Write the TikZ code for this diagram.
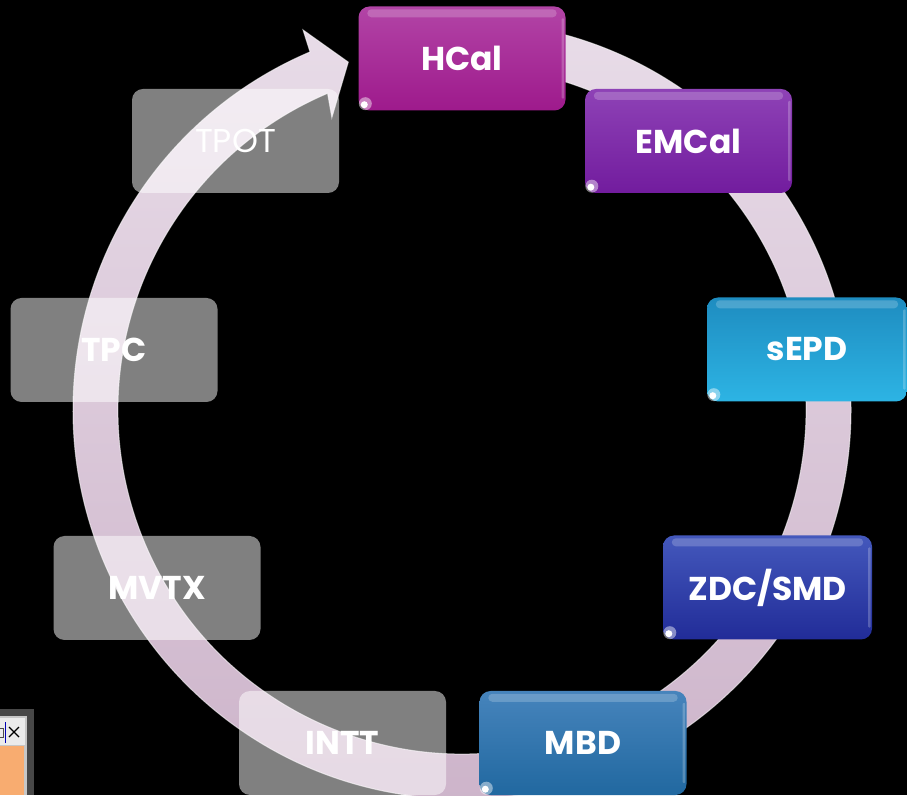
\documentclass[tikz,border=0pt]{standalone}
\usepackage{fontspec}
\setmainfont{Poppins}
\usetikzlibrary{calc}
\definecolor{ringtop}{RGB}{232,220,232}
\definecolor{ringbot}{RGB}{205,180,202}
\definecolor{hcalT}{RGB}{178,68,166}
\definecolor{hcalB}{RGB}{158,26,140}
\definecolor{emcT}{RGB}{142,66,182}
\definecolor{emcB}{RGB}{114,28,158}
\definecolor{sepdT}{RGB}{30,140,192}
\definecolor{sepdB}{RGB}{45,180,228}
\definecolor{zdcT}{RGB}{68,88,188}
\definecolor{zdcB}{RGB}{33,44,152}
\definecolor{mbdT}{RGB}{70,132,188}
\definecolor{mbdB}{RGB}{33,104,160}
\definecolor{winorange}{RGB}{248,172,112}
\newcommand\glossbox[1]{%
  \fill[white,opacity=.2,rounded corners=4pt] ([xshift=9pt,yshift=-3pt]#1.north west) rectangle ([xshift=-9pt,yshift=-11pt]#1.north east);
  \fill[white,opacity=.22,rounded corners=1pt] ([xshift=-4pt,yshift=-12pt]#1.north east) rectangle ([xshift=-1.5pt,yshift=12pt]#1.south east);
  \fill[white,opacity=.45] ([shift={(7pt,7pt)}]#1.south west) circle (6.5pt);
  \fill[white] ([shift={(6pt,6pt)}]#1.south west) circle (3.5pt);
}
\begin{document}
\begin{tikzpicture}[x=1pt,y=1pt,
  box/.style={rounded corners=11pt, minimum width=207pt, minimum height=104pt,
    inner sep=0pt, text=white, font=\fontsize{33}{33}\selectfont\bfseries},
  gbox/.style={box, fill=white, fill opacity=.5, text opacity=1},
  ringline/.style={draw=white, draw opacity=.55, line width=1pt}
]
\useasboundingbox (0,0) rectangle (907,795);
\clip (0,0) rectangle (907,795);
\fill[black] (0,0) rectangle (907,795);

% circular arrow
\begin{scope}[shift={(462,385)}]
  \shade[top color=ringtop, bottom color=ringbot, ringline]
    (88:389pt) arc[start angle=88, end angle=-247, radius=389pt]
    -- (-247.3:412pt) -- (-251.9:366pt) -- (-246:320pt) -- (-247:344pt)
    arc[start angle=-247, end angle=88, radius=344pt] -- cycle;
\end{scope}

% grey (transparent) boxes
\node[gbox] (tpot) at (235.5,654) {\mdseries TPOT};
\node[gbox] (tpc)  at (114,445) {TPC};
\node[gbox] (mvtx) at (157,207) {MVTX};
\node[gbox] (intt) at (342.5,52) {INTT};

% coloured boxes
\node[box, top color=hcalT, bottom color=hcalB] (hcal) at (462,736.5) {HCal};
\node[box, top color=emcT, bottom color=emcB] (emcal) at (688.5,654) {EMCal};
\node[box, minimum width=200pt, top color=sepdT, bottom color=sepdB] (sepd) at (807,445.5) {sEPD};
\node[box, minimum width=209pt, top color=zdcT, bottom color=zdcB] (zdc) at (767.5,207.5) {ZDC/SMD};
\node[box, top color=mbdT, bottom color=mbdB] (mbd) at (583,52) {MBD};
\foreach \b in {hcal,emcal,sepd,zdc,mbd}{\glossbox{\b}}

% window fragment bottom-left
\fill[black!72] (0,0) rectangle (34,86);
\fill[black!22] (0,0) rectangle (27,79);
\fill[black!8] (0,50) rectangle (25,77);
\fill[winorange] (0,0) rectangle (24,49);
\draw[black, line width=1.4pt] (9,58) -- (19,68) (9,68) -- (19,58);
\draw[blue!70!black, line width=1pt] (5,52) -- (5,73);
\draw[black!70, line width=.8pt] (0,58) -- (3,58) -- (3,67) -- (0,67);
\end{tikzpicture}
\end{document}
